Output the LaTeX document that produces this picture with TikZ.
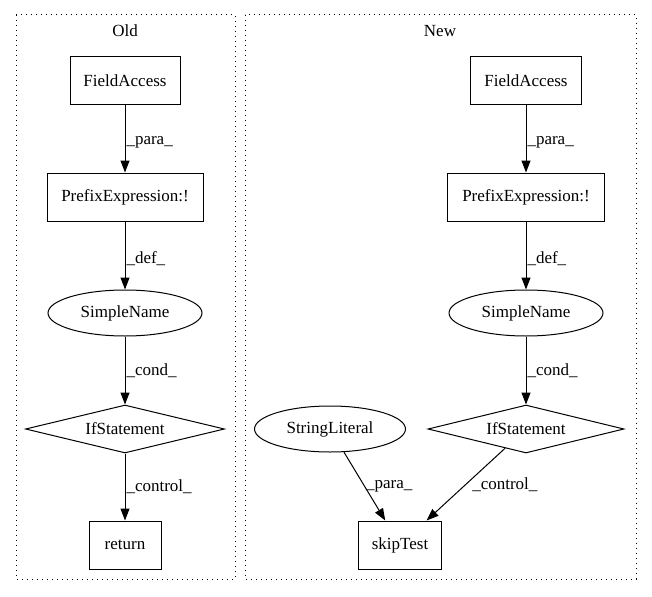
\documentclass[tikz,border=0pt]{standalone}
\usepackage{fontspec}
\setmainfont{Liberation Serif}
\usetikzlibrary{arrows.meta,shapes.geometric,positioning}

\tikzset{
  every node/.style={font=\fontsize{17}{19}\selectfont},
  box/.style={draw,rectangle,minimum height=48pt,inner sep=0pt},
  oval/.style={draw,ellipse,minimum height=46pt,inner sep=0pt},
  cond/.style={draw,diamond,minimum width=199pt,minimum height=48pt,aspect=4,inner sep=0pt},
  lbl/.style={anchor=west,inner sep=1pt},
  cluster/.style={draw,dash pattern=on 1.2pt off 3.8pt,line width=1pt},
  edge/.style={-{Triangle[length=12pt,width=9pt]},line width=1pt}
}

\begin{document}
\begin{tikzpicture}[x=1pt,y=-1pt,line width=1pt]
      \useasboundingbox (0,0) rectangle (652,596);
      \draw[cluster] (16,15) rectangle (235,579);
      \draw[cluster] (245,15) rectangle (636,579);
      \node (old) at (125,31) {Old};
      \node (new) at (440,31) {New};

      % old
      \node[box,minimum width=110pt] (ofa) at (125,81) {FieldAccess};
      \node[box,minimum width=156pt] (opre) at (125,197) {PrefixExpression:!};
      \node[oval,minimum width=154pt] (osn) at (125,313) {SimpleName};
      \node[cond] (oif) at (125,429) {IfStatement};
      \node[box,minimum width=72pt] (oret) at (125,545) {return};

      % new
      \node[box,minimum width=111pt] (nfa) at (526,81) {FieldAccess};
      \node[box,minimum width=157pt] (npre) at (526,197) {PrefixExpression:!};
      \node[oval,minimum width=154pt] (nsn) at (526,313) {SimpleName};
      \node[cond,minimum width=196pt] (nif) at (526,429) {IfStatement};
      \node[oval,minimum width=151pt] (nsl) at (330,429) {StringLiteral};
      \node[box,minimum width=83pt] (nskip) at (400,545) {skipTest};

      \draw[edge] (ofa) -- node[lbl,pos=0.55] {\_para\_} (opre);
      \draw[edge] (opre) -- node[lbl,pos=0.55] {\_def\_} (osn);
      \draw[edge] (osn) -- node[lbl,pos=0.5] {\_cond\_} (oif);
      \draw[edge] (oif) -- node[lbl,pos=0.5] {\_control\_} (oret);

      \draw[edge] (nfa) -- node[lbl,pos=0.55] {\_para\_} (npre);
      \draw[edge] (npre) -- node[lbl,pos=0.55] {\_def\_} (nsn);
      \draw[edge] (nsn) -- node[lbl,pos=0.5] {\_cond\_} (nif);
      \draw[edge] (nsl) -- node[lbl,pos=0.5] {\_para\_} (nskip);
      \draw[edge] (nif) -- node[lbl,pos=0.5,xshift=5pt] {\_control\_} (nskip);
\end{tikzpicture}
\end{document}
